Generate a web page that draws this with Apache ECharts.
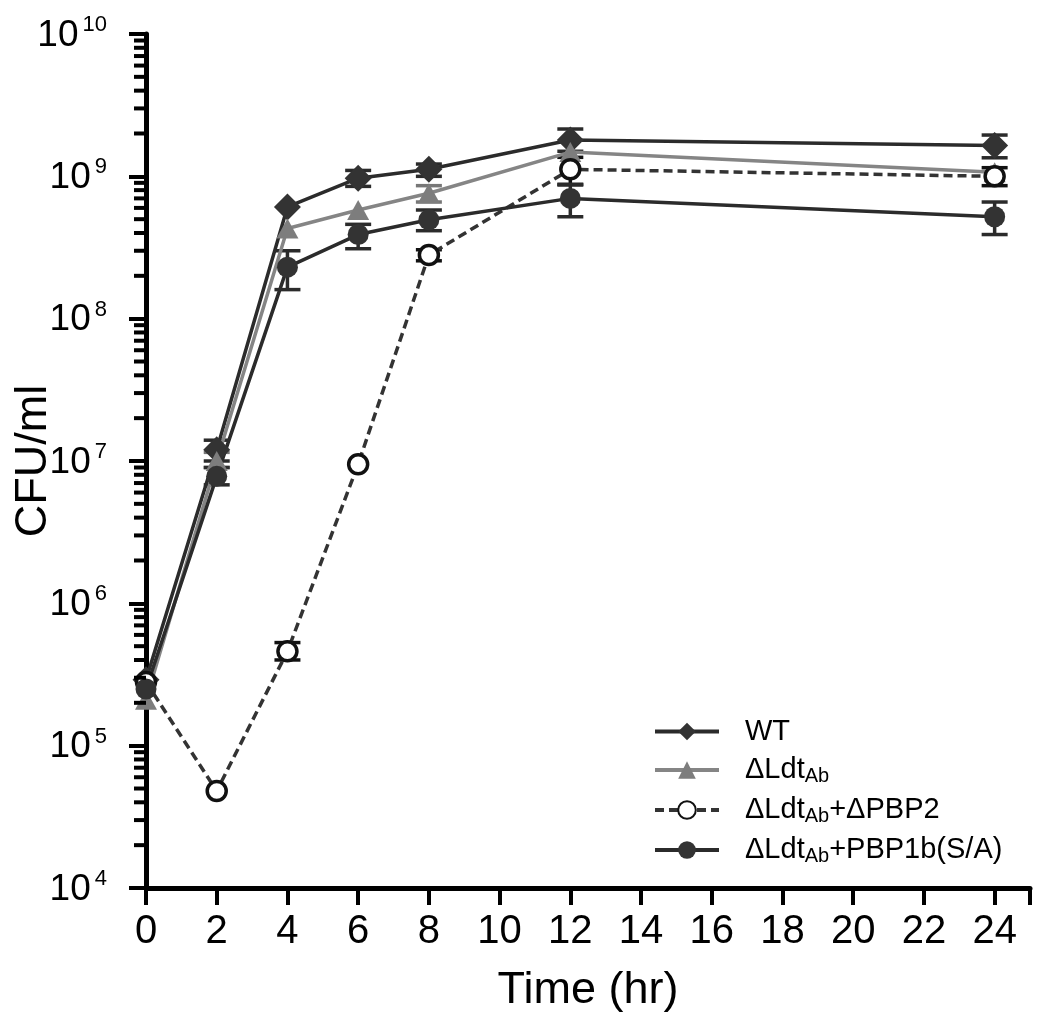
<!DOCTYPE html>
<html>
<head>
<meta charset="utf-8">
<script src="https://cdn.jsdelivr.net/npm/echarts@6/dist/echarts.min.js"></script>
<style>html,body{margin:0;padding:0;background:#fff}#c{width:1050px;height:1033px}</style>
</head>
<body>
<div id="c"></div>
<script>
// ---- data ----
const times = [0, 2, 4, 6, 8, 12, 24];
const xTicks = [0, 2, 4, 6, 8, 10, 12, 14, 16, 18, 20, 22, 24];
const yTickExponents = [4, 5, 6, 7, 8, 9, 10];

const wtValues   = [2.9e5, 1.2e7, 6.1e8, 9.7e8, 1.12e9, 1.8e9, 1.65e9];
const wtLow      = [null, 1.0e7, null, 8.5e8, 1.0e9, 1.5e9, 1.35e9];
const wtHigh     = [null, 1.4e7, null, 1.1e9, 1.22e9, 2.15e9, 1.95e9];

const ldtValues  = [2.1e5, 1.0e7, 4.3e8, 5.8e8, 7.6e8, 1.48e9, 1.07e9];
const ldtLow     = [null, 0.9e7, null, null, 6.6e8, null, null];
const ldtHigh    = [null, 1.15e7, null, null, 8.6e8, null, null];

const pbp2Values = [2.8e5, 4.8e4, 4.6e5, 9.5e6, 2.8e8, 1.12e9, 1.0e9];
const pbp2Low    = [null, null, 4.0e5, null, 2.55e8, 8.7e8, 8.6e8];
const pbp2High   = [null, null, 5.3e5, null, 3.05e8, 1.36e9, 1.15e9];

const pbp1Values = [2.5e5, 7.8e6, 2.3e8, 3.9e8, 4.95e8, 7.0e8, 5.2e8];
const pbp1Low    = [null, 6.8e6, 1.6e8, 3.1e8, 4.15e8, 5.2e8, 3.9e8];
const pbp1High   = [null, 9.0e6, 3.0e8, 4.6e8, 5.8e8, 8.8e8, 6.6e8];

const seriesNames = ['WT', 'ΔLdtAb', 'ΔLdtAb+ΔPBP2', 'ΔLdtAb+PBP1b(S/A)'];
const legendRich = {
  'WT': '{g|}{n|WT}',
  'ΔLdtAb': '{g|}{n|ΔLdt}{sub|Ab}',
  'ΔLdtAb+ΔPBP2': '{g|}{n|ΔLdt}{sub|Ab}{n|+ΔPBP2}',
  'ΔLdtAb+PBP1b(S/A)': '{g|}{n|ΔLdt}{sub|Ab}{n|+PBP1b(S/A)}'
};

// ---- helpers ----
function pairs(vals) { return times.map((t, i) => [t, vals[i]]); }
function errData(low, high) {
  const out = [];
  times.forEach((t, i) => { if (low[i] != null) out.push([t, low[i], high[i]]); });
  return out;
}
function errSeries(low, high, color) {
  return {
    type: 'custom', z: 1, silent: true,
    data: errData(low, high),
    encode: { x: 0, y: [1, 2] },
    renderItem: function (params, api) {
      const lo = api.coord([api.value(0), api.value(1)]);
      const hi = api.coord([api.value(0), api.value(2)]);
      const w = 13;
      const st = { stroke: color, lineWidth: 3.5 };
      return { type: 'group', children: [
        { type: 'line', shape: { x1: lo[0], y1: lo[1], x2: hi[0], y2: hi[1] }, style: st },
        { type: 'line', shape: { x1: lo[0] - w, y1: lo[1], x2: lo[0] + w, y2: lo[1] }, style: st },
        { type: 'line', shape: { x1: hi[0] - w, y1: hi[1], x2: hi[0] + w, y2: hi[1] }, style: st }
      ]};
    }
  };
}
// minor ticks 2..9 for each decade
const minorTickValues = [];
for (let e = 4; e < 10; e++) for (let m = 2; m <= 9; m++) minorTickValues.push([0, m * Math.pow(10, e)]);

const chart = echarts.init(document.getElementById('c'));
const FONT = 'Liberation Sans, Arial, sans-serif';
chart.setOption({
  animation: false,
  backgroundColor: '#fff',
  grid: { left: 146, right: 20, top: 34, bottom: 145, containLabel: false, outerBoundsMode: 'none' },
  xAxis: {
    type: 'value', min: 0, max: 25, interval: 2,
    axisLine: { show: true, onZero: false, lineStyle: { color: '#000', width: 5 } },
    axisTick: { show: true, length: 17, lineStyle: { color: '#000', width: 4 } },
    axisLabel: {
      fontFamily: FONT, fontSize: 40, color: '#000', margin: 24,
      formatter: v => (xTicks.indexOf(v) >= 0 ? String(v) : '')
    },
    splitLine: { show: false },
    name: 'Time (hr)', nameLocation: 'middle', nameGap: 80, nameMoveOverlap: false,
    nameTextStyle: { fontFamily: FONT, fontSize: 45, color: '#000' }
  },
  yAxis: {
    type: 'log', logBase: 10, min: 1e4, max: 1e10, splitNumber: 6,
    axisLine: { show: true, lineStyle: { color: '#000', width: 5 } },
    axisTick: { show: true, length: 17, lineStyle: { color: '#000', width: 4 } },
    minorTick: { show: false },
    splitLine: { show: false },
    axisLabel: {
      margin: 39, color: '#000',
      formatter: function (v) {
        const e = Math.round(Math.log10(v));
        return '{b|10}{s|' + e + '}';
      },
      rich: {
        b: { fontFamily: FONT, fontSize: 37, color: '#000', lineHeight: 40, verticalAlign: 'bottom' },
        s: { fontFamily: FONT, fontSize: 22, color: '#000', lineHeight: 40, verticalAlign: 'top', padding: [0, 0, 10, 4] }
      }
    },
    name: 'CFU/ml', nameLocation: 'middle', nameGap: 90, nameRotate: 90, nameMoveOverlap: false,
    nameTextStyle: { fontFamily: FONT, fontSize: 45, color: '#000' }
  },
  legend: {
    orient: 'vertical', left: 648, top: 712,
    itemWidth: 64, itemHeight: 22, itemGap: 6,
    data: seriesNames,
    formatter: name => legendRich[name],
    lineStyle: { width: 4 },
    textStyle: {
      color: '#000',
      rich: {
        g: { width: 21, lineHeight: 32 },
        n: { fontFamily: FONT, fontSize: 29, color: '#000', lineHeight: 32, verticalAlign: 'middle' },
        sub: { fontFamily: FONT, fontSize: 20, color: '#000', lineHeight: 32, verticalAlign: 'bottom', padding: [14, 0, 0, 0] }
      }
    }
  },
  series: [
    // minor ticks on the y axis
    {
      type: 'custom', silent: true, z: 5, clip: false,
      data: minorTickValues,
      renderItem: function (params, api) {
        const p = api.coord([0, api.value(1)]);
        return { type: 'line', shape: { x1: p[0] - 12, y1: p[1], x2: p[0], y2: p[1] }, style: { stroke: '#000', lineWidth: 4 } };
      }
    },
    errSeries(wtLow, wtHigh, '#2b2b2b'),
    errSeries(ldtLow, ldtHigh, '#777'),
    errSeries(pbp2Low, pbp2High, '#111'),
    errSeries(pbp1Low, pbp1High, '#2b2b2b'),
    {
      name: 'WT', type: 'line', z: 3, data: pairs(wtValues),
      symbol: 'diamond', symbolSize: [27, 27],
      lineStyle: { color: '#2b2b2b', width: 3.5 },
      itemStyle: { color: '#333' }
    },
    {
      name: 'ΔLdtAb', type: 'line', z: 3, data: pairs(ldtValues),
      symbol: 'triangle', symbolSize: [22, 20],
      lineStyle: { color: '#858585', width: 3.5 },
      itemStyle: { color: '#7d7d7d' }
    },
    {
      name: 'ΔLdtAb+ΔPBP2', type: 'line', z: 3, data: pairs(pbp2Values),
      symbol: 'circle', symbolSize: 19,
      lineStyle: { color: '#333', width: 3.5, type: [9, 5] },
      itemStyle: { color: '#fff', borderColor: '#111', borderWidth: 3.5 }
    },
    {
      name: 'ΔLdtAb+PBP1b(S/A)', type: 'line', z: 3, data: pairs(pbp1Values),
      symbol: 'circle', symbolSize: 21,
      lineStyle: { color: '#2b2b2b', width: 3.5 },
      itemStyle: { color: '#333' }
    }
  ]
});
</script>
</body>
</html>
